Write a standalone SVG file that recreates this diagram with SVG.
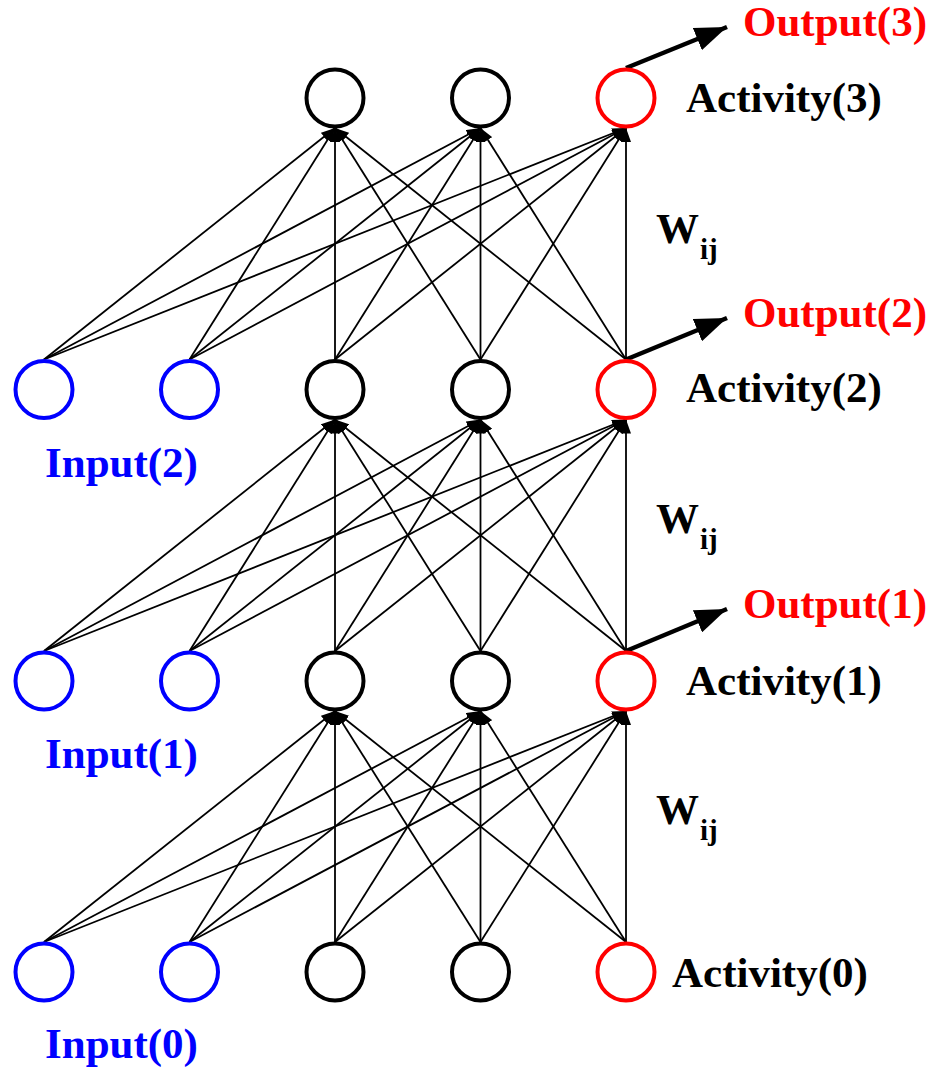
<svg xmlns="http://www.w3.org/2000/svg" width="933" height="1069" viewBox="0 0 933 1069">
  <style>
    .node { fill: #ffffff; stroke-width: 4; }
    .in { stroke: #0000ff; }
    .hid { stroke: #000000; }
    .out { stroke: #ff0000; }
    .w { stroke: #000000; stroke-width: 1.8; fill: none; marker-end: url(#tip); }
    .o { stroke: #000000; stroke-width: 4.5; fill: none; marker-end: url(#bigtip); }
    text { font-family: "Liberation Serif", "Times New Roman", serif; font-weight: bold; font-size: 43px; }
    .lblue { fill: #0000ff; }
    .lred { fill: #ff0000; }
    .lblack { fill: #000000; }
    .sub { font-size: 29px; }
  </style>
  <defs>
    <marker id="tip" viewBox="0 0 14 10" markerWidth="14" markerHeight="10" refX="14" refY="5" orient="auto" markerUnits="userSpaceOnUse">
      <path d="M0,0 L14,5 L0,10 z" fill="#000000"/>
    </marker>
    <marker id="bigtip" viewBox="0 0 32 24" markerWidth="32" markerHeight="24" refX="32" refY="12" orient="auto" markerUnits="userSpaceOnUse">
      <path d="M0,0 L32,12 L0,24 z" fill="#000000"/>
    </marker>
  </defs>

  <!-- weighted connections: every node of a row feeds the three units of the row above -->
  <g id="connectors">
    <!-- row 0 -> row 1 -->
    <line class="w" x1="44" y1="942" x2="335" y2="711"/>
    <line class="w" x1="44" y1="942" x2="480.5" y2="711"/>
    <line class="w" x1="44" y1="942" x2="626" y2="711"/>
    <line class="w" x1="189.5" y1="942" x2="335" y2="711"/>
    <line class="w" x1="189.5" y1="942" x2="480.5" y2="711"/>
    <line class="w" x1="189.5" y1="942" x2="626" y2="711"/>
    <line class="w" x1="335" y1="942" x2="335" y2="711"/>
    <line class="w" x1="335" y1="942" x2="480.5" y2="711"/>
    <line class="w" x1="335" y1="942" x2="626" y2="711"/>
    <line class="w" x1="480.5" y1="942" x2="335" y2="711"/>
    <line class="w" x1="480.5" y1="942" x2="480.5" y2="711"/>
    <line class="w" x1="480.5" y1="942" x2="626" y2="711"/>
    <line class="w" x1="626" y1="942" x2="335" y2="711"/>
    <line class="w" x1="626" y1="942" x2="480.5" y2="711"/>
    <line class="w" x1="626" y1="942" x2="626" y2="711"/>
    <!-- row 1 -> row 2 -->
    <line class="w" x1="44" y1="651" x2="335" y2="419.5"/>
    <line class="w" x1="44" y1="651" x2="480.5" y2="419.5"/>
    <line class="w" x1="44" y1="651" x2="626" y2="419.5"/>
    <line class="w" x1="189.5" y1="651" x2="335" y2="419.5"/>
    <line class="w" x1="189.5" y1="651" x2="480.5" y2="419.5"/>
    <line class="w" x1="189.5" y1="651" x2="626" y2="419.5"/>
    <line class="w" x1="335" y1="651" x2="335" y2="419.5"/>
    <line class="w" x1="335" y1="651" x2="480.5" y2="419.5"/>
    <line class="w" x1="335" y1="651" x2="626" y2="419.5"/>
    <line class="w" x1="480.5" y1="651" x2="335" y2="419.5"/>
    <line class="w" x1="480.5" y1="651" x2="480.5" y2="419.5"/>
    <line class="w" x1="480.5" y1="651" x2="626" y2="419.5"/>
    <line class="w" x1="626" y1="651" x2="335" y2="419.5"/>
    <line class="w" x1="626" y1="651" x2="480.5" y2="419.5"/>
    <line class="w" x1="626" y1="651" x2="626" y2="419.5"/>
    <!-- row 2 -> row 3 -->
    <line class="w" x1="44" y1="359.5" x2="335" y2="128"/>
    <line class="w" x1="44" y1="359.5" x2="480.5" y2="128"/>
    <line class="w" x1="44" y1="359.5" x2="626" y2="128"/>
    <line class="w" x1="189.5" y1="359.5" x2="335" y2="128"/>
    <line class="w" x1="189.5" y1="359.5" x2="480.5" y2="128"/>
    <line class="w" x1="189.5" y1="359.5" x2="626" y2="128"/>
    <line class="w" x1="335" y1="359.5" x2="335" y2="128"/>
    <line class="w" x1="335" y1="359.5" x2="480.5" y2="128"/>
    <line class="w" x1="335" y1="359.5" x2="626" y2="128"/>
    <line class="w" x1="480.5" y1="359.5" x2="335" y2="128"/>
    <line class="w" x1="480.5" y1="359.5" x2="480.5" y2="128"/>
    <line class="w" x1="480.5" y1="359.5" x2="626" y2="128"/>
    <line class="w" x1="626" y1="359.5" x2="335" y2="128"/>
    <line class="w" x1="626" y1="359.5" x2="480.5" y2="128"/>
    <line class="w" x1="626" y1="359.5" x2="626" y2="128"/>
    <!-- outputs -->
    <line class="o" x1="626" y1="651" x2="727" y2="609"/>
    <line class="o" x1="626" y1="359.5" x2="727" y2="318"/>
    <line class="o" x1="626" y1="68" x2="727" y2="27"/>
  </g>

  <!-- row 0 -->
  <g id="in0a"><circle class="node in" cx="44" cy="972" r="28.5"/></g>
  <g id="in0b"><circle class="node in" cx="189.5" cy="972" r="28.5"/></g>
  <g id="h0a"><circle class="node hid" cx="335" cy="972" r="28.5"/></g>
  <g id="h0b"><circle class="node hid" cx="480.5" cy="972" r="28.5"/></g>
  <g id="a0"><circle class="node out" cx="626" cy="972" r="28.5"/></g>
  <!-- row 1 -->
  <g id="in1a"><circle class="node in" cx="44" cy="681" r="28.5"/></g>
  <g id="in1b"><circle class="node in" cx="189.5" cy="681" r="28.5"/></g>
  <g id="h1a"><circle class="node hid" cx="335" cy="681" r="28.5"/></g>
  <g id="h1b"><circle class="node hid" cx="480.5" cy="681" r="28.5"/></g>
  <g id="a1"><circle class="node out" cx="626" cy="681" r="28.5"/></g>
  <!-- row 2 -->
  <g id="in2a"><circle class="node in" cx="44" cy="389.5" r="28.5"/></g>
  <g id="in2b"><circle class="node in" cx="189.5" cy="389.5" r="28.5"/></g>
  <g id="h2a"><circle class="node hid" cx="335" cy="389.5" r="28.5"/></g>
  <g id="h2b"><circle class="node hid" cx="480.5" cy="389.5" r="28.5"/></g>
  <g id="a2"><circle class="node out" cx="626" cy="389.5" r="28.5"/></g>
  <!-- row 3 -->
  <g id="h3a"><circle class="node hid" cx="335" cy="98" r="28.5"/></g>
  <g id="h3b"><circle class="node hid" cx="480.5" cy="98" r="28.5"/></g>
  <g id="a3"><circle class="node out" cx="626" cy="98" r="28.5"/></g>

  <!-- labels -->
  <g id="labels">
    <text class="lblue" x="45" y="477">Input(2)</text>
    <text class="lblue" x="45" y="768">Input(1)</text>
    <text class="lblue" x="45" y="1058">Input(0)</text>
    <text class="lblack" x="686" y="112">Activity(3)</text>
    <text class="lblack" x="686" y="402">Activity(2)</text>
    <text class="lblack" x="686" y="695">Activity(1)</text>
    <text class="lblack" x="672" y="987">Activity(0)</text>
    <text class="lred" x="743" y="36">Output(3)</text>
    <text class="lred" x="743" y="327">Output(2)</text>
    <text class="lred" x="743" y="618">Output(1)</text>
    <text class="lblack" x="656" y="243">W<tspan class="sub" x="700" y="259">ij</tspan></text>
    <text class="lblack" x="656" y="533">W<tspan class="sub" x="700" y="549">ij</tspan></text>
    <text class="lblack" x="656" y="824">W<tspan class="sub" x="700" y="840">ij</tspan></text>
  </g>
</svg>
